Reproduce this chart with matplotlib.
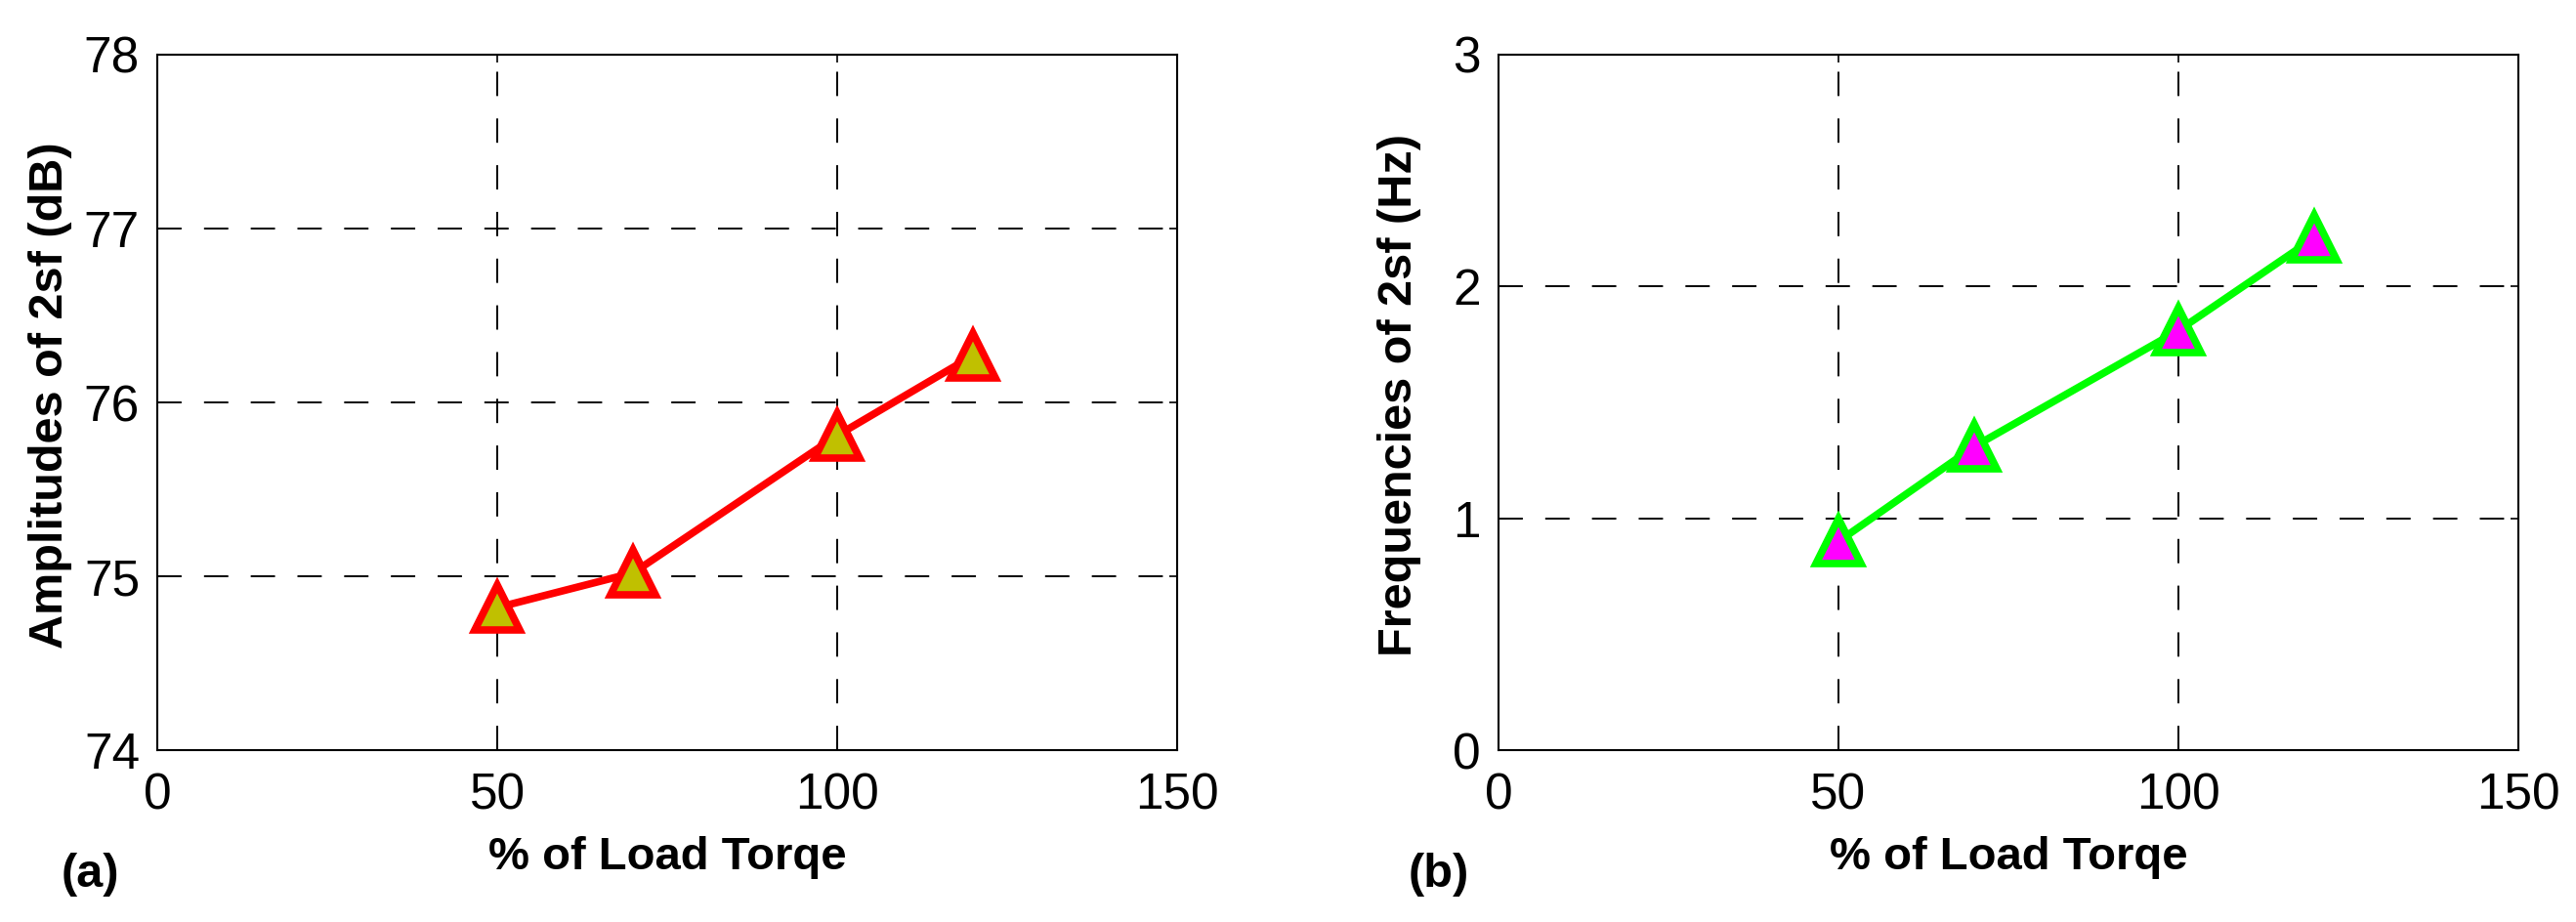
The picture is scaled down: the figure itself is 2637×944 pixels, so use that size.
import matplotlib
matplotlib.use("Agg")
import matplotlib.pyplot as plt

plt.rcParams['font.family'] = ['Liberation Sans', 'DejaVu Sans']

# data
load_pct = [50, 70, 100, 120]
amp_2sf = [74.82, 75.02, 75.81, 76.27]
freq_2sf = [0.90, 1.31, 1.81, 2.21]

xticks = [0, 50, 100, 150]
amp_ticks = [74, 75, 76, 77, 78]
freq_ticks = [0, 1, 2, 3]

fig = plt.figure(figsize=(26.37, 9.44), dpi=100)
ax1 = fig.add_axes([0.0611, 0.1864, 0.3959, 0.7543])
ax2 = fig.add_axes([0.5817, 0.1864, 0.3959, 0.7543])

grid_ls = (0, (12.8, 11.8))


def style(ax, yticks, ylabel, ylab_x):
    ax.set_xlim(0, 150)
    ax.set_xticks(xticks)
    ax.set_ylim(yticks[0], yticks[-1])
    ax.set_yticks(yticks)
    ax.grid(True, color='k', linestyle=grid_ls, linewidth=1.4)
    ax.tick_params(direction='in', length=6, width=1.2, labelsize=37,
                   top=True, right=True)
    ax.tick_params(axis='x', pad=16)
    ax.tick_params(axis='y', pad=13)
    for s in ax.spines.values():
        s.set_linewidth(1.5)
    ax.set_xlabel('% of Load Torqe', fontsize=34, fontweight='bold', va='center')
    ax.set_ylabel(ylabel, fontsize=35, fontweight='bold', va='center')
    ax.xaxis.set_label_coords(0.5, -0.155)
    ax.yaxis.set_label_coords(ylab_x, 0.51)


ax1.plot(load_pct, amp_2sf, color='#FF0000', lw=5.5, marker='^', ms=33,
         mec='#FF0000', mfc='#C0C000', mew=5.5, zorder=3)
style(ax1, amp_ticks, 'Amplitudes of 2sf (dB)', -0.105)

ax2.plot(load_pct, freq_2sf, color='#00FF00', lw=5.5, marker='^', ms=33,
         mec='#00FF00', mfc='#FF00FF', mew=5.5, zorder=3)
style(ax2, freq_ticks, 'Frequencies of 2sf (Hz)', -0.097)

fig.text(92 / 2637, 1 - 895 / 944, '(a)', fontsize=35, fontweight='bold',
         ha='center', va='center')
fig.text(1473 / 2637, 1 - 895 / 944, '(b)', fontsize=35, fontweight='bold',
         ha='center', va='center')

fig.savefig('out.png', dpi=100)
